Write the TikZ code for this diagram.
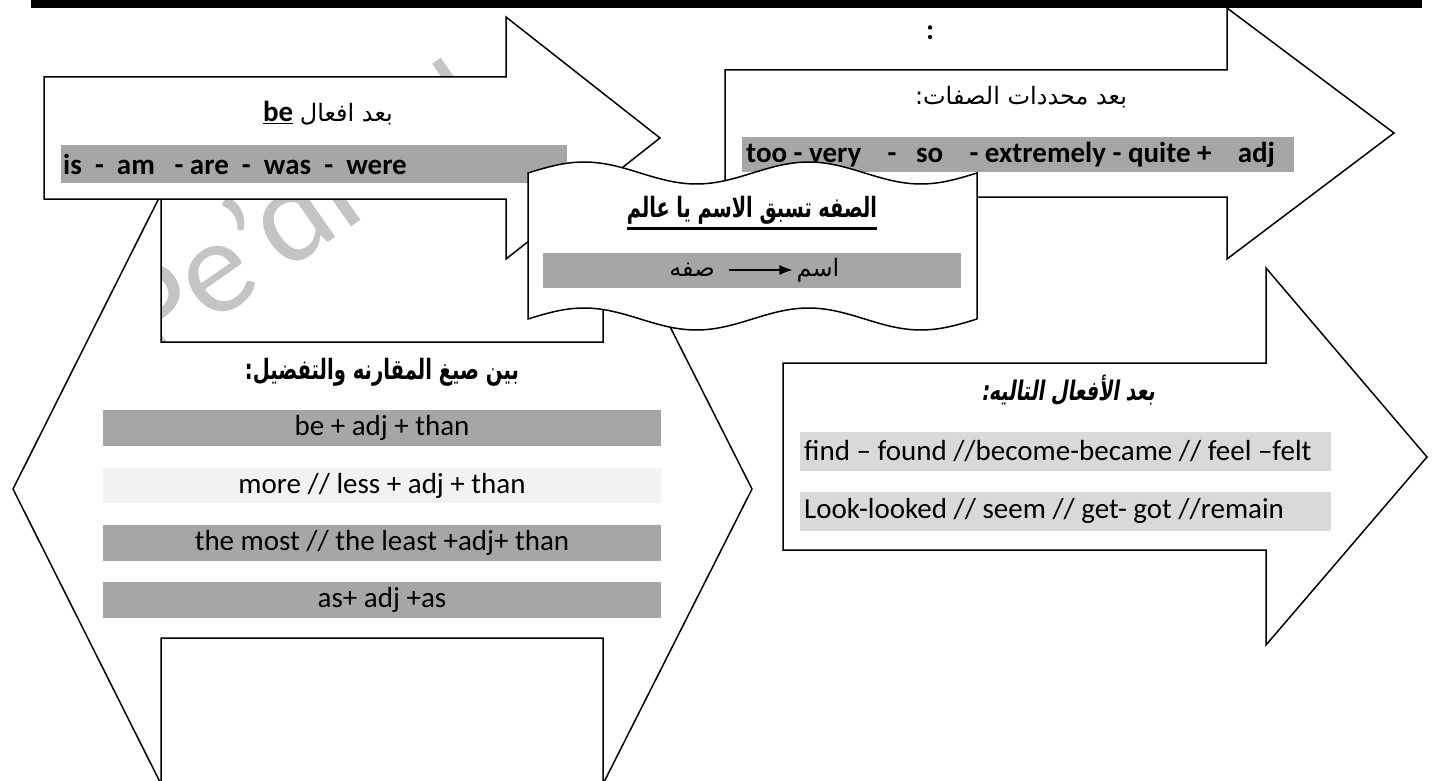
\documentclass[tikz,border=0pt]{standalone}
\usepackage{fontspec}
\usepackage{graphicx}
\setmainfont{Carlito}
\newfontfamily\arabicfont[Script=Arabic]{DejaVu Sans}
\newfontfamily\arabicslant[Script=Arabic, FakeSlant=0.22, UprightFont={* Bold}]{DejaVu Sans}
\TeXXeTstate=1
\usetikzlibrary{arrows.meta}
\definecolor{barDark}{HTML}{A6A6A6}
\definecolor{barLight}{HTML}{F2F2F2}
\definecolor{barPale}{HTML}{D9D9D9}
\definecolor{markGray}{HTML}{C4C4C4}

\begin{document}
\begin{tikzpicture}[x=1pt, y=-1pt, line join=miter, >={Latex[length=13pt,width=10pt]},
	every node/.style={inner sep=0pt, font=\fontsize{29}{29}\selectfont},
	blockarrow/.style={draw, fill=white, line width=1.5pt},
	darkbar/.style={fill=barDark},
	lightbar/.style={fill=barLight},
	palebar/.style={fill=barPale},
	enbold/.style={font=\fontsize{29}{29}\selectfont\bfseries},
	artxt/.style={font=\fontsize{24}{24}\selectfont\arabicfont},
	arbold/.style={font=\fontsize{28}{28}\selectfont\arabicfont\bfseries}]
	\useasboundingbox (0,0) rectangle (1443,781);
	\clip (0,0) rectangle (1443,781);
	% watermark and top rule
	\node[text=markGray, rotate=35, font=\fontsize{135}{135}\selectfont] (mark) at (300,205) {Pe'di -N};
	\fill (31,0) rectangle (1422,8);
	% comparison double arrow
	\draw[blockarrow] (13,489) -- (161,194) -- (161,342) -- (603,342) -- (603,194) -- (752,489)
	  -- (603,784) -- (603,638) -- (161,638) -- (161,784) -- cycle;
	\fill[darkbar] (103,410) rectangle (661,446);
	\fill[lightbar] (103,468) rectangle (661,503);
	\fill[darkbar] (103,525) rectangle (661,561);
	\fill[darkbar] (103,582) rectangle (661,618);
	\node[arbold] (cmpHead) at (382,372) {\scalebox{0.7}[1]{\beginR بين صيغ المقارنه والتفضيل:\endR}};
	\node (cmpA) at (382,428) {be + adj + than};
	\node (cmpB) at (382,486) {more // less + adj + than};
	\node (cmpC) at (382,543) {the most // the least +adj+ than};
	\node (cmpD) at (382,600) {as+ adj +as};
	% after be
	\draw[blockarrow] (44,77) -- (506,77) -- (506,17) -- (660,138) -- (506,259) -- (506,199) -- (44,199) -- cycle;
	\node (beHead) at (328,113) {\underline{\textbf{be}} {\arabicfont\fontsize{24}{24}\selectfont\beginR بعد افعال\endR}};
	\fill[darkbar] (61,145) rectangle (567,183);
	\node[enbold, anchor=west] (beList) at (63,164) {is~~-~~am~~~-~are~~-~~was~~-~~were};
	% after intensifiers
	\draw[blockarrow] (725,70) -- (1227,70) -- (1227,8) -- (1394,133) -- (1227,259) -- (1227,197) -- (725,197) -- cycle;
	\node[enbold] (colonMark) at (930,33) {:};
	\node[artxt] (limHead) at (1021,97) {\beginR بعد محددات الصفات:\endR};
	\fill[darkbar] (742,137) rectangle (1294,172);
	\node[enbold, anchor=west] (limList) at (746,155) {too - very~~~~-~~~so~~~~- extremely - quite +~~~~adj};
	% after verbs
	\draw[blockarrow] (783,363) -- (1266,363) -- (1266,268) -- (1427,457) -- (1266,645) -- (1266,550) -- (783,550) -- cycle;
	\node[font=\fontsize{27}{27}\selectfont\arabicslant] (verbHead) at (1068,390) {\scalebox{0.71}[1]{\beginR بعد الأفعال التاليه:\endR}};
	\fill[palebar] (800,432) rectangle (1331,471);
	\fill[palebar] (800,492) rectangle (1331,531);
	\node[anchor=west] (verbA) at (804,451) {find – found //become-became // feel –felt};
	\node[anchor=west] (verbB) at (804,511) {Look-looked // seem // get- got //remain};
	% wave banner
	\draw[blockarrow] (528,173) -- plot[domain=528:977, samples=90] (\x, {173-11*sin((\x-528)*1.6036)})
	  -- (977,319) -- plot[domain=0:449, samples=90] ({977-\x}, {319-11*sin((449-\x)*1.6036)}) -- cycle;
	\fill[darkbar] (543,253) rectangle (961,288);
	\node[arbold] (ruleHead) at (752,210) {\scalebox{0.69}[1]{\beginR الصفه تسبق الاسم يا عالم\endR}};
	\draw[line width=3.5pt] ([yshift=-4pt]ruleHead.south west) -- ([yshift=-4pt]ruleHead.south east);
	\node[artxt] (sifa) at (692,270) {\beginR صفه\endR};
	\node[artxt] (ism) at (818,270) {\beginR اسم\endR};
	\draw[->, line width=1.2pt, shorten <=14pt, shorten >=4pt] (sifa) -- (ism);
\end{tikzpicture}
\end{document}
